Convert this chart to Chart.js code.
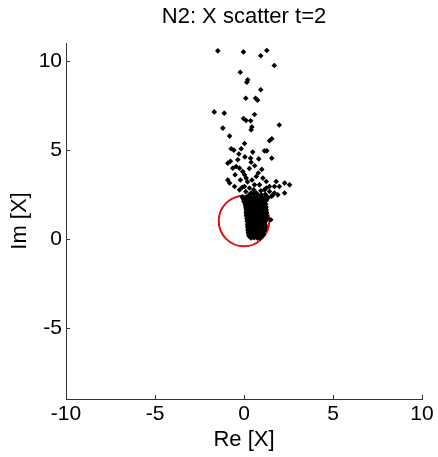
<!DOCTYPE html>
<html><head><meta charset="utf-8">
<script src="https://cdn.jsdelivr.net/npm/chart.js@4/dist/chart.umd.min.js"></script>
<style>html,body{margin:0;padding:0;background:#fff}#wrap{width:438px;height:457px}</style>
</head><body><div id="wrap"><canvas id="c" width="438" height="457"></canvas></div>
<script>
const titleText = 'N2: X scatter t=2';
const xLabel = 'Re [X]';
const yLabel = 'Im [X]';
const xTicks = [-10, -5, 0, 5, 10];
const yTicks = [-5, 0, 5, 10];
const xRange = [-10, 10];
const yRange = [-9, 11];
const circleCenter = [0, 1];
const circleRadius = 1.42;

const reX = [
  -1.47,-0.03,0.94,1.28,1.7,-0.21,0.21,0.16,0.94,0.1,0.65,0.76,-1.67,-1.11,0.59,-0.03,0.12,0.37,0.44,0.4,-1.19,1.98,-0.81,1.56,1.43,0.03,-0.72,-0.57,-0.16,-0.29,0.49,1.15,1.28,0.37,0.83,1.56,
  -0.91,-0.76,-0.35,0.4,0.05,-0.63,-0.44,-0.25,-0.07,0.03,0.12,-0.91,-0.81,0.69,1.06,1.25,1.43,1.81,1.71,1.99,2.28,2.56,2.28,0.03,0.31,0.59,0.87,1.15,1.43,1.71,0.4,0.69,0.97,-0.25,-0.53,0.2,0.45,0.8,1.0,-0.5,0.3,0.6,-0.2,0.95,0.55,1.25,0.1,-0.1,
  0.3,0.55,0.8,1.2,1.6,1.9,
  -0.1,0.15,0.35,0.6,0.85,1.05,1.3,1.55,
  0.0,0.2,0.38,0.55,0.72,0.9,1.08,1.25,
  0.05,0.22,0.4,0.58,0.75,0.92,1.1,
  0.1,0.27,0.44,0.62,0.8,0.98,1.15,
  0.12,0.3,0.48,0.66,0.84,1.02,1.18,
  0.16,0.34,0.52,0.7,0.88,1.05,1.2,
  0.15,0.33,0.5,0.68,0.86,1.04,1.2,
  0.18,0.36,0.54,0.72,0.9,1.08,1.22,
  0.2,0.38,0.56,0.74,0.92,1.1,1.25,1.5,
  0.24,0.42,0.6,0.78,0.96,1.14,
  0.22,0.4,0.58,0.76,0.94,1.12,1.2,
  0.25,0.43,0.61,0.79,0.97,1.15,
  0.26,0.44,0.62,0.8,0.98,1.12,
  0.28,0.46,0.64,0.82,1.0,1.08,
  0.32,0.5,0.68,0.86,0.98,
  -0.05,0.1,0.28,0.46,0.64,0.82,1.0,1.17,1.35,
  0.0,0.14,0.31,0.49,0.67,0.84,1.01,1.18,
  0.08,0.19,0.36,0.53,0.71,0.89,1.06,1.22,
  0.1,0.21,0.39,0.57,0.75,0.93,1.1,1.24,
  0.13,0.25,0.43,0.61,0.79,0.97,1.13,1.25,
  0.12,0.24,0.42,0.59,0.77,0.95,1.12,1.26,
  0.14,0.27,0.45,0.63,0.81,0.99,1.15,1.27,
  0.16,0.29,0.47,0.65,0.83,1.01,1.18,1.3,
  0.19,0.33,0.51,0.69,0.87,1.05,1.2,
  0.2,0.31,0.49,0.67,0.85,1.03,1.18,
  0.21,0.34,0.52,0.7,0.88,1.06,1.2,
  0.22,0.35,0.53,0.71,0.89,1.06,1.17,
  0.24,0.37,0.55,0.73,0.91,1.05,
  0.27,0.41,0.59,0.77,0.93,1.02,
  0.4,0.58,0.76,0.9
];
const imX = [
  10.56,10.5,10.28,10.58,9.74,9.36,8.93,8.8,8.37,7.9,7.9,7.79,7.13,7.06,6.98,6.76,6.65,6.63,6.28,6.12,6.22,6.39,5.77,5.62,5.51,5.35,5.06,4.98,5.06,4.76,4.87,4.94,4.94,4.53,4.49,4.53,
  4.25,4.36,4.44,4.3,4.6,3.97,4.06,3.97,3.78,3.6,3.41,3.31,3.13,3.5,3.41,3.22,2.94,3.22,2.94,2.94,3.13,3.03,2.57,2.94,2.85,3.03,3.03,2.75,2.66,2.57,2.57,2.57,2.47,2.75,2.94,3.2,3.3,3.7,3.9,3.6,3.95,4.1,3.3,2.7,2.75,2.85,2.65,2.9,
  2.48,2.52,2.45,2.5,2.44,2.47,
  2.36,2.33,2.38,2.34,2.37,2.32,2.36,2.39,
  2.18,2.2,2.16,2.19,2.17,2.21,2.18,2.15,
  2.02,2.0,2.04,2.01,2.03,2.0,2.05,
  1.86,1.88,1.85,1.87,1.84,1.86,1.88,
  1.7,1.72,1.69,1.71,1.68,1.7,1.73,
  1.54,1.52,1.55,1.53,1.56,1.54,1.51,
  1.38,1.4,1.37,1.39,1.36,1.38,1.41,
  1.22,1.2,1.23,1.21,1.24,1.22,1.19,
  1.06,1.08,1.05,1.07,1.04,1.06,1.09,1.07,
  0.9,0.92,0.89,0.91,0.88,0.9,
  0.74,0.72,0.75,0.73,0.76,0.74,0.71,
  0.58,0.6,0.57,0.59,0.56,0.58,
  0.42,0.4,0.43,0.41,0.44,0.42,
  0.26,0.28,0.25,0.27,0.24,0.26,
  0.12,0.1,0.13,0.11,0.14,
  2.27,2.28,2.26,2.29,2.27,2.25,2.28,2.27,2.3,
  2.1,2.11,2.09,2.1,2.12,2.08,2.1,2.11,
  1.94,1.95,1.93,1.94,1.96,1.92,1.94,1.95,
  1.78,1.79,1.77,1.78,1.8,1.76,1.78,1.79,
  1.62,1.63,1.61,1.62,1.64,1.6,1.62,1.63,
  1.46,1.47,1.45,1.46,1.48,1.44,1.46,1.47,
  1.3,1.31,1.29,1.3,1.32,1.28,1.3,1.31,
  1.14,1.15,1.13,1.14,1.16,1.12,1.14,1.15,
  0.98,0.99,0.97,0.98,1.0,0.96,0.98,
  0.82,0.83,0.81,0.82,0.84,0.8,0.82,
  0.66,0.67,0.65,0.66,0.68,0.64,0.66,
  0.5,0.51,0.49,0.5,0.52,0.48,0.5,
  0.34,0.35,0.33,0.34,0.36,0.32,
  0.19,0.2,0.18,0.19,0.21,0.17,
  0.05,0.06,0.04,0.05
];

const points = reX.map((x, i) => ({x: x, y: imX[i]}));
const FONT = '"Liberation Sans", Arial, Helvetica, sans-serif';
const AXIS_COLOR = '#333333';

const circlePlugin = {
  id: 'circle',
  beforeDatasetsDraw(chart) {
    const xs = chart.scales.x, ys = chart.scales.y, ctx = chart.ctx;
    const cx = xs.getPixelForValue(circleCenter[0]);
    const cy = ys.getPixelForValue(circleCenter[1]);
    const r = xs.getPixelForValue(circleCenter[0] + circleRadius) - cx;
    ctx.save();
    ctx.beginPath();
    ctx.arc(cx, cy, r, 0, Math.PI * 2);
    ctx.strokeStyle = '#e01010';
    ctx.lineWidth = 2;
    ctx.stroke();
    ctx.restore();
  }
};

const inwardTicks = {
  id: 'inwardTicks',
  afterDraw(chart) {
    const xs = chart.scales.x, ys = chart.scales.y, ctx = chart.ctx;
    const a = chart.chartArea;
    ctx.save();
    ctx.strokeStyle = AXIS_COLOR;
    ctx.lineWidth = 1;
    ctx.beginPath();
    xs.ticks.forEach(t => {
      const px = Math.round(xs.getPixelForValue(t.value)) + 0.5;
      ctx.moveTo(px, a.bottom);
      ctx.lineTo(px, a.bottom - 4);
    });
    ys.ticks.forEach(t => {
      const py = Math.round(ys.getPixelForValue(t.value)) + 0.5;
      ctx.moveTo(a.left, py);
      ctx.lineTo(a.left + 4, py);
    });
    ctx.stroke();
    ctx.restore();
  }
};

new Chart(document.getElementById('c'), {
  type: 'scatter',
  data: {
    datasets: [{
      data: points,
      pointStyle: 'rectRot',
      pointRadius: 2.8,
      pointHoverRadius: 2.8,
      backgroundColor: '#000',
      borderColor: '#000',
      borderWidth: 0
    }]
  },
  options: {
    responsive: false,
    animation: false,
    devicePixelRatio: 1,
    layout: {padding: {top: 0, right: 16, left: 0, bottom: 0}},
    plugins: {
      legend: {display: false},
      tooltip: {enabled: false},
      title: {
        display: true,
        text: titleText,
        fullSize: false,
        color: '#000',
        font: {family: FONT, size: 22, weight: 'normal'},
        padding: {top: 4, bottom: 12.6}
      }
    },
    scales: {
      x: {
        type: 'linear',
        min: xRange[0], max: xRange[1],
        afterBuildTicks: s => { s.ticks = xTicks.map(v => ({value: v})); },
        afterFit: s => { s.height = 58; },
        grid: {display: false, drawTicks: false},
        border: {display: true, color: AXIS_COLOR, width: 1},
        ticks: {color: '#000', font: {family: FONT, size: 21}, padding: 3, maxRotation: 0},
        title: {display: true, text: xLabel, color: '#000', font: {family: FONT, size: 22}, padding: {top: 0, bottom: 3.8}}
      },
      y: {
        type: 'linear',
        min: yRange[0], max: yRange[1],
        afterBuildTicks: s => { s.ticks = yTicks.map(v => ({value: v})); },
        afterFit: s => { s.width = 66; },
        grid: {display: false, drawTicks: false},
        border: {display: true, color: AXIS_COLOR, width: 1},
        ticks: {color: '#000', font: {family: FONT, size: 21}, padding: 4},
        title: {display: true, text: yLabel, color: '#000', font: {family: FONT, size: 22}, padding: {top: 6.8, bottom: 0}}
      }
    }
  },
  plugins: [circlePlugin, inwardTicks]
});
</script>
</body></html>
